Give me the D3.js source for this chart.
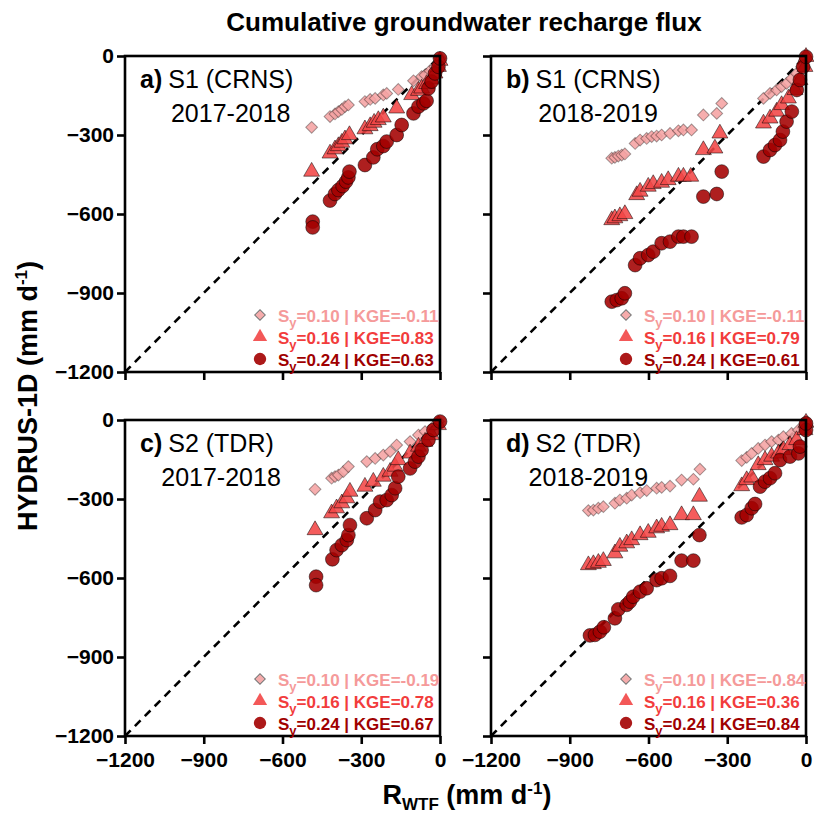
<!DOCTYPE html>
<html>
<head>
<meta charset="utf-8">
<script src="https://cdn.jsdelivr.net/npm/d3@7/dist/d3.min.js"></script>
<style>
  html, body { margin: 0; padding: 0; background: #fff; }
  svg { display: block; font-family: Arial, "Liberation Sans", sans-serif; }
</style>
</head>
<body>
<svg id="chart" width="814" height="815"></svg>
<script>
// Cumulative recharge: R_WTF (x) vs HYDRUS-1D (y), mm, three specific yields per panel
const tickValues = [-1200, -900, -600, -300, 0];
const panelIds = ["a", "b", "c", "d"];
const panelSites = ["S1 (CRNS)", "S1 (CRNS)", "S2 (TDR)", "S2 (TDR)"];
const panelYears = ["2017-2018", "2018-2019", "2017-2018", "2018-2019"];
const syLabels = ["0.10", "0.16", "0.24"];
const kgeValues = [
  ["-0.11", "0.83", "0.63"],
  ["-0.11", "0.79", "0.61"],
  ["-0.19", "0.78", "0.67"],
  ["-0.84", "0.36", "0.84"]
];

// panel a: S1 (CRNS) 2017-2018
const a_sy10 = [[-489,-271],[-419,-230],[-400,-220],[-387,-211],[-374,-203],[-362,-192],[-349,-186],[-286,-173],[-266,-165],[-247,-161],[-216,-148],[-203,-142],[-159,-127],[-101,-94],[-70,-78],[-57,-72],[-38,-56],[-19,-40],[-6,-25],[0,-9]];
const a_sy16 = [[-489,-439],[-419,-370],[-400,-354],[-387,-342],[-374,-329],[-362,-316],[-345,-300],[-286,-278],[-266,-266],[-251,-253],[-235,-243],[-216,-233],[-165,-199],[-108,-148],[-82,-132],[-70,-123],[-51,-106],[-32,-89],[-19,-66],[-6,-41],[0,-18]];
const a_sy24 = [[-485,-629],[-485,-651],[-419,-549],[-400,-524],[-387,-509],[-371,-494],[-358,-477],[-349,-461],[-345,-439],[-286,-414],[-254,-385],[-239,-354],[-216,-342],[-203,-325],[-165,-300],[-146,-262],[-101,-218],[-82,-192],[-63,-180],[-51,-170],[-44,-123],[-32,-97],[-19,-66],[-6,-41],[0,-9]];

// panel b: S1 (CRNS) 2018-2019
const b_sy10 = [[-740,-388],[-728,-385],[-715,-380],[-702,-376],[-690,-372],[-651,-332],[-632,-319],[-607,-313],[-588,-306],[-569,-304],[-550,-300],[-518,-294],[-486,-284],[-467,-281],[-436,-281],[-391,-224],[-340,-218],[-321,-180],[-162,-161],[-137,-142],[-112,-129],[-93,-116],[-74,-104],[-55,-85],[-36,-66],[-16,-41],[-4,-15],[0,-3]];
const b_sy16 = [[-740,-623],[-728,-616],[-709,-608],[-690,-600],[-645,-528],[-632,-515],[-601,-496],[-582,-486],[-550,-481],[-525,-471],[-486,-458],[-467,-458],[-439,-458],[-391,-357],[-347,-351],[-328,-294],[-162,-256],[-137,-237],[-112,-211],[-93,-186],[-67,-161],[-42,-129],[-23,-91],[-4,-41],[0,-3]];
const b_sy24 = [[-740,-933],[-721,-927],[-702,-920],[-690,-901],[-651,-794],[-632,-768],[-601,-756],[-582,-743],[-550,-711],[-518,-705],[-486,-686],[-467,-686],[-436,-686],[-391,-534],[-340,-524],[-321,-439],[-162,-382],[-137,-357],[-118,-338],[-99,-319],[-88,-287],[-74,-249],[-54,-211],[-35,-129],[-23,-91],[-11,-41],[0,-3]];

// panel c: S2 (TDR) 2017-2018
const c_sy10 = [[-476,-263],[-413,-221],[-400,-215],[-387,-209],[-368,-196],[-349,-177],[-279,-158],[-247,-146],[-216,-133],[-190,-120],[-165,-95],[-114,-82],[-82,-57],[-57,-44],[-25,-25],[-6,-6]];
const c_sy16 = [[-476,-418],[-413,-354],[-394,-335],[-374,-316],[-355,-297],[-343,-272],[-286,-253],[-254,-234],[-216,-215],[-190,-196],[-171,-177],[-159,-152],[-114,-127],[-82,-101],[-57,-82],[-32,-57],[-6,-19]];
const c_sy24 = [[-472,-595],[-472,-627],[-410,-529],[-394,-494],[-374,-475],[-355,-456],[-349,-437],[-343,-399],[-279,-373],[-247,-342],[-228,-310],[-203,-304],[-184,-285],[-171,-259],[-159,-215],[-114,-184],[-95,-158],[-82,-139],[-70,-114],[-44,-76],[-25,-38],[0,-6]];

// panel d: S2 (TDR) 2018-2019
const d_sy10 = [[-829,-344],[-810,-342],[-791,-335],[-772,-329],[-728,-316],[-709,-304],[-683,-297],[-664,-285],[-632,-276],[-607,-268],[-569,-259],[-550,-256],[-518,-251],[-474,-228],[-429,-225],[-404,-187],[-245,-154],[-226,-142],[-207,-127],[-182,-108],[-156,-95],[-131,-82],[-105,-76],[-86,-63],[-55,-51],[-29,-38],[-4,-13],[0,-3]];
const d_sy16 = [[-829,-551],[-810,-547],[-791,-542],[-772,-535],[-728,-506],[-709,-481],[-683,-468],[-664,-456],[-632,-437],[-601,-428],[-569,-411],[-550,-405],[-518,-399],[-474,-361],[-429,-361],[-406,-291],[-245,-251],[-226,-228],[-207,-218],[-182,-171],[-156,-152],[-131,-139],[-105,-127],[-86,-114],[-61,-95],[-36,-76],[-4,-38],[0,-10]];
const d_sy24 = [[-823,-818],[-804,-816],[-785,-804],[-770,-787],[-728,-753],[-715,-719],[-683,-702],[-671,-690],[-658,-671],[-632,-652],[-607,-639],[-569,-608],[-550,-601],[-518,-592],[-474,-534],[-429,-534],[-406,-437],[-245,-370],[-226,-361],[-207,-335],[-194,-319],[-175,-253],[-156,-234],[-137,-221],[-118,-202],[-99,-152],[-61,-139],[-29,-127],[-23,-101],[0,-38],[0,-13]];

const panelSeries = [
  [a_sy10, a_sy16, a_sy24],
  [b_sy10, b_sy16, b_sy24],
  [c_sy10, c_sy16, c_sy24],
  [d_sy10, d_sy16, d_sy24]
];

// ---- layout & style ----
const W = 315, H = 316;
const origins = [[125, 56], [491, 56], [125, 420], [491, 420]];
const fills = ["#f5a3a3", "#f24646", "#a30000"];
const textColors = ["#f59a9a", "#f23c3c", "#a00000"];
// diamond = square turned 45 degrees
const shapes = [d3.symbolSquare, d3.symbolTriangle, d3.symbolCircle];
const rotations = [45, 0, 0];
const sizes = [70, 110, 150];

const svg = d3.select("#chart");

const x = d3.scaleLinear().domain([-1200, 0]).range([0, W]);
const y = d3.scaleLinear().domain([-1200, 0]).range([H, 0]);

panelIds.forEach((id, i) => {
  const [ox, oy] = origins[i];
  const g = svg.append("g").attr("transform", `translate(${ox},${oy})`);
  const isLeft = i % 2 === 0, isBottom = i >= 2;

  // 1:1 line
  g.append("line")
    .attr("x1", x(-1200)).attr("y1", y(-1200))
    .attr("x2", x(0)).attr("y2", y(0))
    .attr("stroke", "#000").attr("stroke-width", 2.6)
    .attr("stroke-dasharray", "8,6");

  // markers
  panelSeries[i].forEach((pts, s) => {
    const sym = d3.symbol().type(shapes[s]).size(sizes[s]);
    g.append("g").selectAll("path").data(pts).join("path")
      .attr("d", sym)
      .attr("transform", d => `translate(${x(d[0])},${y(d[1])}) rotate(${rotations[s]})`)
      .attr("fill", fills[s]).attr("fill-opacity", 0.88)
      .attr("stroke", "#000").attr("stroke-opacity", s === 0 ? 0.35 : 0.5)
      .attr("stroke-width", 1);
  });

  // axes
  const yAxis = d3.axisLeft(y).tickValues(tickValues).tickSize(8).tickPadding(3)
    .tickFormat(isLeft ? d3.format("d") : () => "");
  const xAxis = d3.axisBottom(x).tickValues(tickValues).tickSize(8).tickPadding(8)
    .tickFormat(isBottom ? d3.format("d") : () => "");
  const ya = g.append("g").call(yAxis);
  const xa = g.append("g").attr("transform", `translate(0,${H})`).call(xAxis);
  [ya, xa].forEach(a => {
    a.select(".domain").remove();
    a.selectAll(".tick line").attr("stroke", "#000").attr("stroke-width", 2.6);
    a.selectAll(".tick text")
      .attr("fill", "#000")
      .style("font-size", "21px").style("font-weight", "bold")
      .style("font-family", "Arial, 'Liberation Sans', sans-serif");
  });

  // frame
  g.append("rect").attr("x", 0).attr("y", 0).attr("width", W).attr("height", H)
    .attr("fill", "none").attr("stroke", "#000").attr("stroke-width", 2.6);

  // panel title
  const t1 = g.append("text").attr("x", 15).attr("y", 32)
    .style("font-size", "25px").attr("fill", "#000");
  t1.append("tspan").style("font-weight", "bold").text(id + ")");
  const site = t1.append("tspan").attr("dx", 6).text(panelSites[i]);
  const t1box = t1.node().getBBox();
  const siteLen = site.node().getComputedTextLength();
  g.append("text")
    .attr("x", t1box.x + t1box.width - siteLen / 2)
    .attr("y", 66).attr("text-anchor", "middle")
    .style("font-size", "25px").attr("fill", "#000")
    .text(panelYears[i]);

  // legend
  syLabels.forEach((sy, s) => {
    const ly = 259 + s * 22;
    const sym = d3.symbol().type(shapes[s]).size(sizes[s] * 0.8);
    g.append("path").attr("d", sym)
      .attr("transform", `translate(135,${ly}) rotate(${rotations[s]})`)
      .attr("fill", fills[s]).attr("fill-opacity", 0.9)
      .attr("stroke", s === 0 ? "#777" : "none").attr("stroke-width", 1);
    const t = g.append("text").attr("x", 153).attr("y", ly + 6.5)
      .attr("fill", textColors[s])
      .style("font-size", "17px").style("font-weight", "bold");
    t.append("tspan").text("S");
    t.append("tspan").attr("dy", 5).style("font-size", "13px").text("y");
    t.append("tspan").attr("dy", -5).text(`=${sy} | KGE=${kgeValues[i][s]}`);
  });
});

// figure title
svg.append("text").attr("x", 464).attr("y", 31).attr("text-anchor", "middle")
  .style("font-size", "26px").style("font-weight", "bold")
  .text("Cumulative groundwater recharge flux");

// y axis label
const yl = svg.append("text")
  .attr("transform", "translate(37,396) rotate(-90)")
  .attr("text-anchor", "middle")
  .style("font-size", "27px").style("font-weight", "bold");
yl.append("tspan").text("HYDRUS-1D (mm d");
yl.append("tspan").attr("dy", -10).style("font-size", "17px").text("-1");
yl.append("tspan").attr("dy", 10).text(")");

// x axis label
const xl = svg.append("text").attr("x", 467).attr("y", 804)
  .attr("text-anchor", "middle")
  .style("font-size", "27px").style("font-weight", "bold");
xl.append("tspan").text("R");
xl.append("tspan").attr("dy", 6).style("font-size", "17px").text("WTF");
xl.append("tspan").attr("dy", -6).text(" (mm d");
xl.append("tspan").attr("dy", -10).style("font-size", "17px").text("-1");
xl.append("tspan").attr("dy", 10).text(")");
</script>
</body>
</html>
